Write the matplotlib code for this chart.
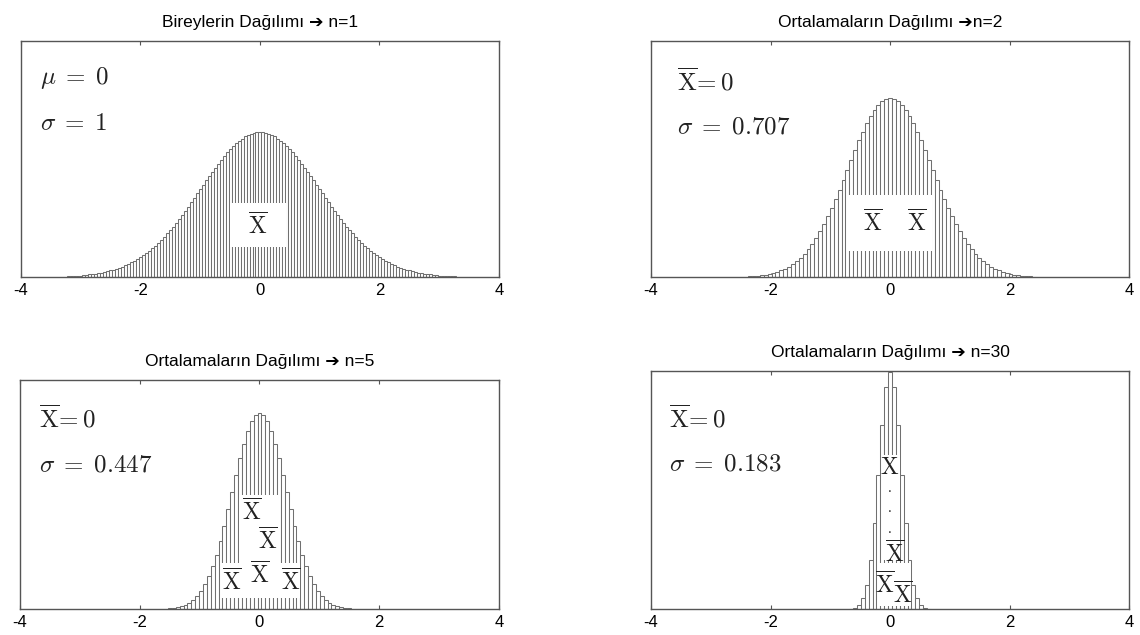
import numpy as np
import matplotlib
matplotlib.use("Agg")
import matplotlib.pyplot as plt
from matplotlib.patches import Rectangle

plt.rcParams['mathtext.fontset'] = 'cm'
plt.rcParams['font.family'] = ['Liberation Sans', 'DejaVu Sans']

# histogram heights (density), left to right
# n=1 : bins of 0.05 starting at -3.20
h1 = [.002, .003, .003, .004, .004, .005, .006, .007, .008, .009,
      .010, .012, .014, .016, .018, .020, .022, .025, .028, .032,
      .036, .040, .044, .049, .054, .060, .066, .072, .079, .086,
      .094, .102, .111, .120, .130, .139, .150, .160, .171, .183,
      .194, .206, .218, .230, .242, .254, .266, .278, .290, .301,
      .312, .323, .333, .343, .352, .361, .368, .375, .381, .387,
      .391, .394, .397, .398,
      .399,
      .398, .397, .394, .391, .387, .381, .375, .368, .361, .352,
      .343, .333, .323, .312, .301, .290, .278, .266, .254, .242,
      .230, .218, .206, .194, .183, .171, .160, .150, .139, .130,
      .120, .111, .102, .094, .086, .079, .072, .066, .060, .054,
      .049, .044, .040, .036, .032, .028, .025, .022, .020, .018,
      .016, .014, .012, .010, .009, .008, .007, .006, .005, .004,
      .004, .003, .003, .002, .002]
start1, w1 = -3.20, 0.05

# n=2 : bins of 0.065 starting at -2.34
h2 = [.002, .003, .004, .006, .007, .010, .013, .016, .021, .026,
      .032, .040, .049, .060, .073, .088, .104, .123, .144, .166,
      .191, .218, .246, .276, .307, .338, .370, .401, .431, .459,
      .485, .508, .527, .543, .555, .562,
      .564,
      .562, .555, .543, .527, .508, .485, .459, .431, .401, .370,
      .338, .307, .276, .246, .218, .191, .166, .144, .123, .104,
      .088, .073, .060, .049, .040, .032, .026, .021, .016, .013,
      .010, .007, .006, .004, .003, .002, .001]
start2, w2 = -2.34, 0.065

# n=5
h3 = [.003, .005, .008, .013, .020, .029, .042, .060, .083, .113,
      .150, .195, .248, .310, .379, .454, .532, .610, .685, .753,
      .811, .855, .883,
      .892,
      .883, .855, .811, .753, .685, .610, .532, .454, .379, .310,
      .248, .195, .150, .113, .083, .060, .042, .029, .020, .013,
      .008, .005, .003]
start3, w3 = -1.495, 0.065

# n=30
h4 = [.004, .013, .038, .099, .225, .450, .795, 1.236, 1.694, 2.047,
      2.18,
      2.047, 1.694, 1.236, .795, .450, .225, .099, .038, .013, .004]
start4, w4 = -0.65, 0.065

titles = ['Bireylerin Dağılımı \u2794 n=1', 'Ortalamaların Dağılımı \u2794n=2',
          'Ortalamaların Dağılımı \u2794 n=5', 'Ortalamaların Dağılımı \u2794 n=30']
stat1 = [r'$\mu \;=\; 0$', r'$\overline{\mathrm{X}}\!= 0$',
         r'$\overline{\mathrm{X}}\!= 0$', r'$\overline{\mathrm{X}}\!= 0$']
stat2 = [r'$\sigma \;=\; 1$', r'$\sigma \;=\; 0.707$', r'$\sigma \;=\; 0.447$',
         r'$\sigma \;=\; 0.183$']
xticks = [-4, -2, 0, 2, 4]
ymax = [0.65, 0.745, 1.042, 2.19]

XB = r'$\overline{\mathrm{X}}$'

fig = plt.figure(figsize=(11.4, 6.35), dpi=100)
boxes = [[0.0184, 0.5638, 0.4193, 0.3717],
         [0.5711, 0.5638, 0.4193, 0.3717],
         [0.0175, 0.0409, 0.4202, 0.3606],
         [0.5711, 0.0409, 0.4193, 0.3748]]
stat_y = [(0.843, 0.653), (0.826, 0.636), (0.83, 0.633), (0.80, 0.613)]
stat_x = [0.04, 0.054, 0.04, 0.038]

data = [(h1, start1, w1), (h2, start2, w2), (h3, start3, w3), (h4, start4, w4)]
axes = []
for i, (h, st, w) in enumerate(data):
    ax = fig.add_axes(boxes[i])
    x = st + w * np.arange(len(h))
    ax.bar(x, h, width=w, color='white', edgecolor='#707070', linewidth=0.75, zorder=2)
    ax.set_xlim(-4, 4)
    ax.set_ylim(0, ymax[i])
    ax.set_xticks(xticks)
    ax.set_xticklabels([str(t) for t in xticks], fontsize=12)
    ax.set_yticks([])
    ax.tick_params(axis='x', direction='in', top=True, length=3, pad=4, color='#555')
    for s in ax.spines.values():
        s.set_color('#555')
        s.set_linewidth(1.0)
    ax.set_title(titles[i], fontsize=12.5, pad=10)
    ax.text(stat_x[i], stat_y[i][0], stat1[i], transform=ax.transAxes, fontsize=18,
            va='center', ha='left', color='#222')
    ax.text(stat_x[i], stat_y[i][1], stat2[i], transform=ax.transAxes, fontsize=18,
            va='center', ha='left', color='#222')
    axes.append(ax)

def white(ax, x0, y0, x1, y1):
    ax.add_patch(Rectangle((x0, y0), x1 - x0, y1 - y0, facecolor='white',
                           edgecolor='none', zorder=3))

def xbar(ax, x, y, **kw):
    ax.text(x, y, XB, fontsize=17, ha='center', va='center', zorder=4, color='#222', **kw)

# panel 1
white(axes[0], -0.50, 0.083, 0.44, 0.204)
xbar(axes[0], -0.03, 0.14)

# panel 2
white(axes[1], -0.70, 0.082, 0.70, 0.259)
xbar(axes[1], -0.28, 0.17)
xbar(axes[1], 0.45, 0.17)

# panel 3
white(axes[2], -0.64, 0.05, 0.68, 0.209)
white(axes[2], -0.34, 0.209, 0.34, 0.519)
xbar(axes[2], -0.125, 0.44)
xbar(axes[2], 0.14, 0.31)
xbar(axes[2], -0.46, 0.12)
xbar(axes[2], 0.01, 0.155)
xbar(axes[2], 0.53, 0.12)

# panel 4
ax = axes[3]
white(ax, -0.14, 0.45, 0.17, 1.42)
white(ax, -0.20, 0.03, 0.35, 0.42)
ax.text(0.0, 1.30, r'$\mathrm{X}$', fontsize=17, ha='center', va='center', zorder=4, color='#222')
for yy in [1.11, 0.93, 0.74]:
    ax.text(0.0, yy, '.', fontsize=10, ha='center', va='center', zorder=4, color='#222')
xbar(ax, 0.08, 0.50)
xbar(ax, -0.08, 0.22)
xbar(ax, 0.22, 0.13)

fig.savefig('out.png', dpi=100)
